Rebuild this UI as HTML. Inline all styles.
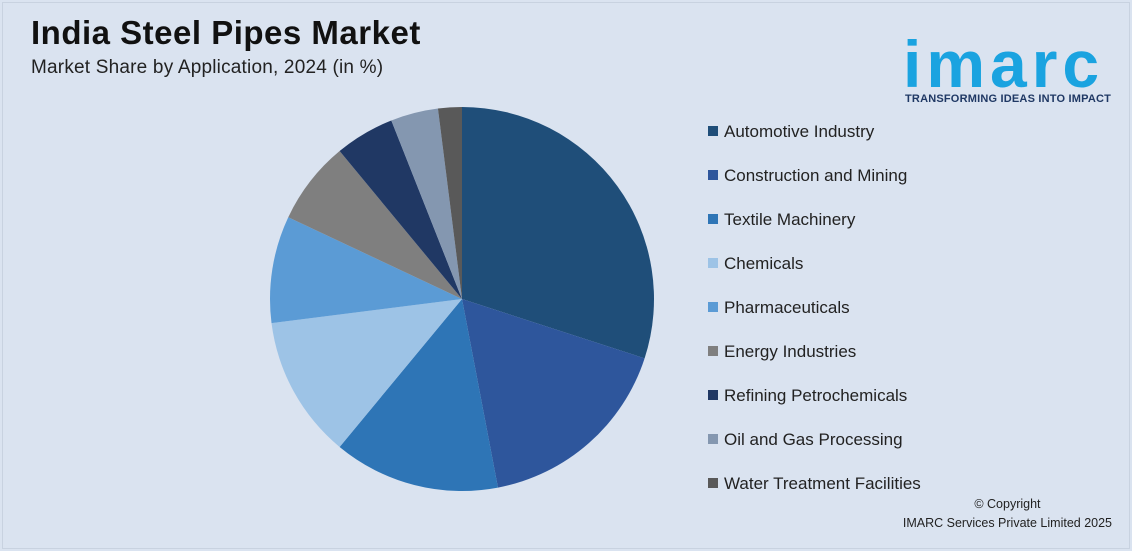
<!DOCTYPE html>
<html><head><meta charset="utf-8"><style>
body{margin:0;width:1132px;height:551px;background:#dae3f0;font-family:"Liberation Sans",sans-serif;overflow:hidden;position:relative}
.frame{position:absolute;left:2px;top:2px;width:1126px;height:545px;border:1px solid #c8d2e0}
h1{position:absolute;left:31px;top:14px;margin:0;font-size:33px;font-weight:bold;color:#111;letter-spacing:0.5px}
.sub{position:absolute;left:31px;top:57px;font-size:19px;color:#222;letter-spacing:0.2px}
.leg{position:absolute;left:708px;font-size:17px;color:#222}
.leg span{display:inline-block;width:10px;height:10px;margin-right:6px;vertical-align:1px}
.logo{position:absolute;left:903px;top:26px;font-size:66px;font-weight:bold;color:#1aa3e0;letter-spacing:5px}
.tag{position:absolute;left:905px;top:93px;font-size:11px;font-weight:bold;color:#1f3864;letter-spacing:0.2px}
.copy{position:absolute;right:20px;top:495px;font-size:12.5px;color:#222;text-align:center;line-height:19px}
</style></head><body>
<div class="frame"></div>
<h1>India Steel Pipes Market</h1>
<div class="sub">Market Share by Application, 2024 (in %)</div>
<div class="logo">imarc</div>
<div class="tag">TRANSFORMING IDEAS INTO IMPACT</div>
<div class="copy">© Copyright<br>IMARC Services Private Limited 2025</div>
<svg id="pie" width="1132" height="551" style="position:absolute;left:0;top:0"></svg>
<div id="legend"></div>
<script>
const categories=["Automotive Industry","Construction and Mining","Textile Machinery","Chemicals","Pharmaceuticals","Energy Industries","Refining Petrochemicals","Oil and Gas Processing","Water Treatment Facilities"];
const shares=[30,17,14,12,9,7,5,4,2];
const colors=["#1f4e79","#2e569c","#2e75b6","#9dc3e6","#5b9bd5","#7f7f7f","#203864","#8497b0","#595959"];
const cx=462,cy=299,r=192;
const svg=document.getElementById('pie');
const total=shares.reduce((a,b)=>a+b,0);
let a0=0;
function pt(a){return [cx+r*Math.sin(a),cy-r*Math.cos(a)];}
shares.forEach((v,i)=>{
  const a1=a0+v/total*2*Math.PI;
  const [x0,y0]=pt(a0),[x1,y1]=pt(a1);
  const p=document.createElementNS('http://www.w3.org/2000/svg','path');
  p.setAttribute('d',`M${cx},${cy}L${x0},${y0}A${r},${r} 0 ${a1-a0>Math.PI?1:0} 1 ${x1},${y1}Z`);
  p.setAttribute('fill',colors[i]);
  
  
  svg.appendChild(p);
  a0=a1;
});
const lg=document.getElementById('legend');
categories.forEach((c,i)=>{
  const d=document.createElement('div');
  d.className='leg';
  d.style.top=(122+i*44)+'px';
  d.innerHTML=`<span style="background:${colors[i]}"></span>${c}`;
  
  
  lg.appendChild(d);
});
</script>
</body></html>
